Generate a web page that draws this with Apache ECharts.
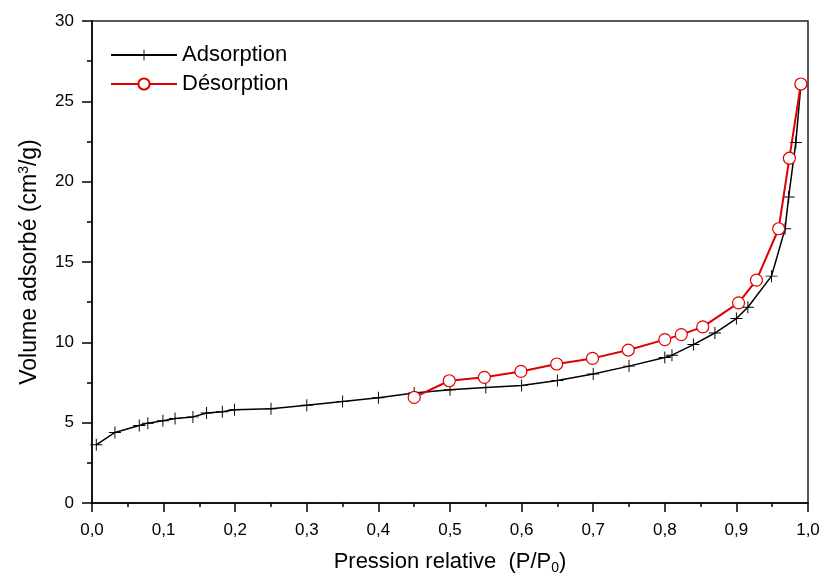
<!DOCTYPE html>
<html>
<head>
	<meta charset="utf-8">
	<title>Isotherme</title>
	<script src="https://cdn.jsdelivr.net/npm/echarts@6/dist/echarts.min.js"></script>
	<style type="text/css">
		html, body { margin: 0; padding: 0; background-color: #fff; }
		#chartBox { width: 824px; height: 575px; }
	</style>
</head>
<body>
<div id="chartBox"></div>

<script>
	// Adsorption (P/P0, volume)
	var adsX = [0.006, 0.032, 0.066, 0.078, 0.099, 0.116, 0.141, 0.160, 0.182, 0.199,
		0.250, 0.300, 0.350, 0.400, 0.450, 0.500, 0.550, 0.600, 0.650, 0.700,
		0.750, 0.800, 0.810, 0.840, 0.870, 0.900, 0.916, 0.949, 0.968, 0.973, 0.983, 0.990];
	var adsY = [3.62, 4.39, 4.82, 4.97, 5.12, 5.26, 5.36, 5.60, 5.68, 5.80,
		5.86, 6.09, 6.32, 6.55, 6.85, 7.05, 7.19, 7.32, 7.63, 8.03,
		8.52, 9.05, 9.20, 9.86, 10.58, 11.48, 12.18, 14.12, 17.07, 19.05, 22.44, 26.0];

	// Désorption
	var desX = [0.990, 0.974, 0.959, 0.928, 0.903, 0.853, 0.823, 0.800, 0.749, 0.699,
		0.649, 0.599, 0.548, 0.499, 0.450];
	var desY = [26.08, 21.46, 17.07, 13.87, 12.46, 10.96, 10.48, 10.17, 9.52, 9.00,
		8.65, 8.19, 7.82, 7.61, 6.57];

	function pairs(xs, ys) {
		var out = [];
		for (var i = 0; i < xs.length; i++) out.push([xs[i], ys[i]]);
		return out;
	}

	var font = 'Liberation Sans, Arial, sans-serif';
	var plusPath = 'path://M-0.08,-1L0.08,-1L0.08,-0.08L1,-0.08L1,0.08L0.08,0.08L0.08,1L-0.08,1L-0.08,0.08L-1,0.08L-1,-0.08L-0.08,-0.08Z';

	var chart = echarts.init(document.getElementById('chartBox'), null, { renderer: 'canvas' });
	var options = {
		animation: false,
		backgroundColor: '#fff',
		textStyle: { fontFamily: font },
		grid: {
			left: 92, right: 16, top: 21, bottom: 72,
			outerBoundsMode: 'none',
			show: true, borderColor: '#222', borderWidth: 1.5, backgroundColor: 'transparent'
		},
		legend: {
			orient: 'vertical',
			left: 105, top: 39,
			itemWidth: 66, itemHeight: 14, itemGap: 7,
			textStyle: { fontSize: 22, color: '#000', fontFamily: font },
			data: ['Adsorption', 'Désorption']
		},
		xAxis: {
			type: 'value', min: 0, max: 1, interval: 0.1,
			name: '{a|Pression relative  (P/P}{s|0}{a|)}',
			nameLocation: 'middle', nameGap: 46,
			nameTextStyle: {
				rich: {
					a: { fontSize: 22, color: '#000', fontFamily: font, lineHeight: 26 },
					s: { fontSize: 14, color: '#000', fontFamily: font, lineHeight: 26, verticalAlign: 'bottom', padding: [12, 0, 0, 0] }
				}
			},
			axisLine: { show: true, onZero: false, lineStyle: { color: '#000', width: 1.5 } },
			axisTick: { show: true, inside: false, length: 9, lineStyle: { color: '#000', width: 1.5 } },
			minorTick: { show: true, splitNumber: 2, length: 4, lineStyle: { color: '#000', width: 1.5 } },
			splitLine: { show: false },
			axisLabel: {
				fontSize: 17, color: '#000', margin: 19, fontFamily: font,
				formatter: function (v) { return v.toFixed(1).replace('.', ','); }
			}
		},
		yAxis: {
			type: 'value', min: 0, max: 30, interval: 5,
			name: '{a|Volume adsorbé (cm}{s|3}{a|/g)}',
			nameLocation: 'middle', nameGap: 49,
			nameTextStyle: {
				rich: {
					a: { fontSize: 23, color: '#000', fontFamily: font, lineHeight: 26 },
					s: { fontSize: 14, color: '#000', fontFamily: font, lineHeight: 26, verticalAlign: 'top', padding: [0, 0, 12, 0] }
				}
			},
			axisLine: { show: true, onZero: false, lineStyle: { color: '#000', width: 1.5 } },
			axisTick: { show: true, inside: false, length: 10, lineStyle: { color: '#000', width: 1.5 } },
			minorTick: { show: true, splitNumber: 2, length: 5, lineStyle: { color: '#000', width: 1.5 } },
			splitLine: { show: false },
			axisLabel: { fontSize: 17, color: '#000', margin: 18, fontFamily: font }
		},
		series: [{
			name: 'Adsorption',
			type: 'line',
			data: pairs(adsX, adsY),
			symbol: plusPath,
			symbolSize: 12,
			showAllSymbol: true,
			lineStyle: { color: '#000', width: 1.5 },
			itemStyle: { color: '#000', borderWidth: 0 },
			z: 2
		}, {
			name: 'Désorption',
			type: 'line',
			data: pairs(desX, desY),
			symbol: 'circle',
			symbolSize: 12,
			showAllSymbol: true,
			lineStyle: { color: '#e00000', width: 2 },
			itemStyle: { color: '#fff', borderColor: '#e00000', borderWidth: 1.2 },
			z: 3
		}]
	};
	chart.setOption(options);
</script>
</body>
</html>
